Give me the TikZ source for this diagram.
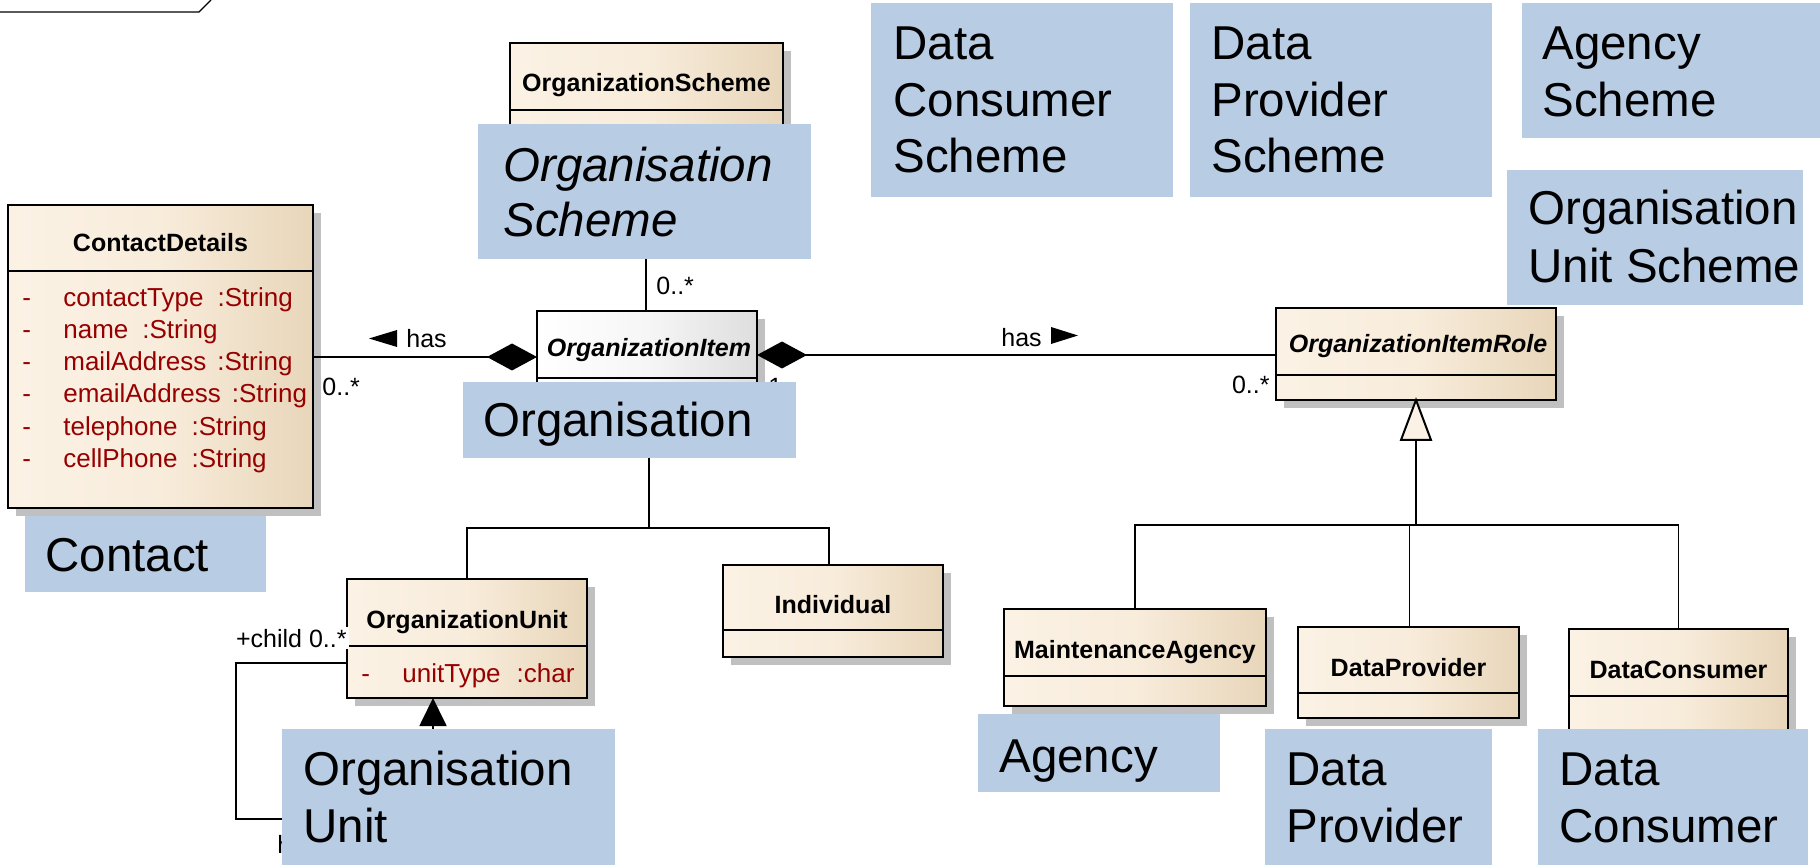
\documentclass[tikz,border=0pt]{standalone}
\usepackage{fontspec}
\setmainfont{Liberation Sans}
\usetikzlibrary{arrows.meta,calc}
\definecolor{bluebg}{RGB}{184,204,228}
\definecolor{creamL}{RGB}{251,242,229}
\definecolor{creamM}{RGB}{248,236,219}
\definecolor{creamR}{RGB}{232,214,186}
\definecolor{grayR}{RGB}{222,222,222}
\definecolor{grayM}{RGB}{246,246,246}
\definecolor{shadowc}{RGB}{192,192,192}
\definecolor{attrred}{RGB}{150,0,0}
\tikzset{
  classbox/.style={draw=black, line width=1pt, inner sep=0pt, outer sep=0pt,
    left color=creamL, right color=creamR, middle color=creamM},
  graybox/.style={draw=black, line width=1pt, inner sep=0pt, outer sep=0pt,
    left color=white, right color=grayR, middle color=grayM},
  bluefill/.style={fill=bluebg, draw=none, inner sep=0pt, outer sep=0pt},
  ttl/.style={font=\fontsize{12.5}{15}\selectfont\bfseries, anchor=base, inner sep=0pt},
  attr/.style={font=\fontsize{13}{15}\selectfont, text=attrred, anchor=base west, inner sep=0pt},
  lbl/.style={font=\fontsize{12.5}{15}\selectfont, inner sep=0pt},
  big/.style={font=\fontsize{23.75}{28.5}\selectfont, anchor=base west, inner sep=0pt},
  conn/.style={draw=black, line width=0.9pt},
}
\newcommand{\umlcls}[7]{%
  \fill[shadowc] (#2+8,#3+8) rectangle (#4+8,#5+8);
  \node[#7, minimum width={(#4-#2)*0.5pt}, minimum height={(#5-#3)*0.5pt}] (#1) at ({(#2+#4)/2},{(#3+#5)/2}) {};
  \draw[line width=1pt] (#2,#6) -- (#4,#6);
}
\newcommand{\bbox}[5]{%
  \node[bluefill, minimum width={(#4-#2)*0.5pt}, minimum height={(#5-#3)*0.5pt}] (#1) at ({(#2+#4)/2},{(#3+#5)/2}) {};
}
\begin{document}
\begin{tikzpicture}[x=0.5pt,y=-0.5pt]
\useasboundingbox (0,0) rectangle (1820,865);
% diagram frame tab
\draw[line width=0.7pt] (0,12) -- (199,12) -- (211,0);

% classes
\umlcls{cd}{8}{205}{313}{508}{271}{classbox}
\umlcls{os}{510}{43}{783}{170}{110}{classbox}
\umlcls{oi}{537}{311}{757}{420}{378}{graybox}
\umlcls{oir}{1276}{308}{1556}{400}{375}{classbox}
\umlcls{ou}{347}{579}{587}{698}{646}{classbox}
\umlcls{ind}{723}{565}{943}{657}{630}{classbox}
\umlcls{ma}{1004}{609}{1266}{706}{676}{classbox}
\umlcls{dp}{1298}{627}{1519}{718}{693}{classbox}
\umlcls{dc}{1569}{629}{1788}{760}{696}{classbox}

% titles
\node[ttl] (cdT) at (160.5,252) {ContactDetails};
\node[ttl] (osT) at (646.5,92) {OrganizationScheme};
\node[ttl, font=\fontsize{12.5}{15}\selectfont\bfseries\itshape] (oiT) at (649,357) {OrganizationItem};
\node[ttl, font=\fontsize{12.5}{15}\selectfont\bfseries\itshape] (oirT) at (1418,353) {OrganizationItemRole};
\node[ttl] (ouT) at (467,628) {OrganizationUnit};
\node[ttl] (indT) at (833,613) {Individual};
\node[ttl] (maT) at (1135,658) {MaintenanceAgency};
\node[ttl] (dpT) at (1408.5,676) {DataProvider};
\node[ttl] (dcT) at (1678.5,678) {DataConsumer};

% attributes
\node[attr] (cdA1) at (22,307) {\makebox[20.5pt][l]{-}contactType\hspace{7pt}:String};
\node[attr] (cdA2) at (22,339) {\makebox[20.5pt][l]{-}name\hspace{7pt}:String};
\node[attr] (cdA3) at (22,371) {\makebox[20.5pt][l]{-}mailAddress\hspace{5.5pt}:String};
\node[attr] (cdA4) at (22,403) {\makebox[20.5pt][l]{-}emailAddress\hspace{5.5pt}:String};
\node[attr] (cdA5) at (22,436) {\makebox[20.5pt][l]{-}telephone\hspace{7pt}:String};
\node[attr] (cdA6) at (22,468) {\makebox[20.5pt][l]{-}cellPhone\hspace{7pt}:String};
\node[attr] (ouA1) at (361,682) {\makebox[20.5pt][l]{-}unitType\hspace{8pt}:char};

% helper coordinates
\coordinate (yl) at (0,357);
\coordinate (yr) at (0,355);
\coordinate (xos) at (646,0);
\coordinate (gj1) at (649,528);
\coordinate (gj2) at (1416,525);
\coordinate (sa1) at (236,663);
\coordinate (sa2) at (236,819);

% associations
\draw[conn, -{Diamond[length=25pt,width=13.5pt]}] (cd.east |- yl) -- (oi.west |- yl);
\draw[conn, {Diamond[length=25pt,width=13.5pt]}-] (oi.east |- yr) -- (oir.west |- yr);
\draw[conn] (os.south -| xos) -- (oi.north -| xos);

% generalisation Organisation
\draw[conn] (oi.south -| gj1) -- (gj1);
\draw[conn] (ou.north) |- (gj1) -| ([xshift=-2pt]ind.north);

% generalisation OrganizationItemRole
\draw[line width=1pt, fill=creamL] (oir.south) -- ++(-15,40) -- ++(30,0) -- cycle;
\coordinate (triB) at ([yshift=-20pt]oir.south);
\draw[conn] (triB) -- (gj2);
\draw[conn] (ma.north) |- (gj2) -| (dc.north);
\draw[conn] ([xshift=0.5pt]dp.north) -- ([xshift=0.5pt]dp.north |- gj2);

% self association of OrganizationUnit
\draw[conn, -{Triangle[length=14pt,width=13.5pt]}] (ou.west |- sa1) -- (sa1) -- (sa2) -| ([xshift=-17pt]ou.south);

% labels
\node[lbl, anchor=base west] (mCD) at (322,396) {0..*};
\node[lbl, anchor=base west] (hasL) at (406,348) {has};
\fill (397,330) -- (397,347) -- (369,338.5) -- cycle;
\node[lbl, anchor=base west] (hasR) at (1001,347) {has};
\fill (1051,327) -- (1051,344) -- (1078,335.5) -- cycle;
\node[lbl, anchor=base west] (mOS) at (656,295) {0..*};
\node[lbl, anchor=base east] (mOIR) at (1270,394) {0..*};
\node[lbl, anchor=base west] (one) at (768,396) {1};
\node[lbl, anchor=base east, fill=white, inner sep=1pt] (child) at (349,647) {+child 0..*};
\node[lbl, anchor=base west] (hh) at (277,853) {h};

% blue overlay boxes
\bbox{bOS}{478}{124}{811}{259}
\bbox{bOrg}{463}{382}{796}{458}
\bbox{bCon}{25}{516}{266}{592}
\bbox{bOU}{282}{729}{615}{865}
\bbox{bAg}{978}{714}{1220}{792}
\bbox{bDP}{1265}{729}{1492}{865}
\bbox{bDC}{1538}{729}{1808}{865}
\bbox{bDCS}{871}{3}{1173}{197}
\bbox{bDPS}{1190}{3}{1492}{197}
\bbox{bAS}{1522}{3}{1820}{138}
\bbox{bOUS}{1507}{170}{1803}{305}

% blue box texts
\node[big, font=\fontsize{23.75}{28.5}\selectfont\itshape] (tOS1) at (503,182) {Organisation};
\node[big, font=\fontsize{23.75}{28.5}\selectfont\itshape] (tOS2) at (503,237) {Scheme};
\node[big] (tOrg) at (483,437) {Organisation};
\node[big] (tCon) at (45,572) {Contact};
\node[big] (tOU1) at (303,785) {Organisation};
\node[big] (tOU2) at (303,842) {Unit};
\node[big] (tAg) at (999,772) {Agency};
\node[big] (tDP1) at (1286,785) {Data};
\node[big] (tDP2) at (1286,842) {Provider};
\node[big] (tDC1) at (1559,785) {Data};
\node[big] (tDC2) at (1559,842) {Consumer};
\node[big] (tDCS1) at (893,60) {Data};
\node[big] (tDCS2) at (893,117) {Consumer};
\node[big] (tDCS3) at (893,173) {Scheme};
\node[big] (tDPS1) at (1211,60) {Data};
\node[big] (tDPS2) at (1211,117) {Provider};
\node[big] (tDPS3) at (1211,173) {Scheme};
\node[big] (tAS1) at (1542,60) {Agency};
\node[big] (tAS2) at (1542,117) {Scheme};
\node[big] (tOUS1) at (1528,225) {Organisation};
\node[big] (tOUS2) at (1528,283) {Unit Scheme};
\end{tikzpicture}
\end{document}
